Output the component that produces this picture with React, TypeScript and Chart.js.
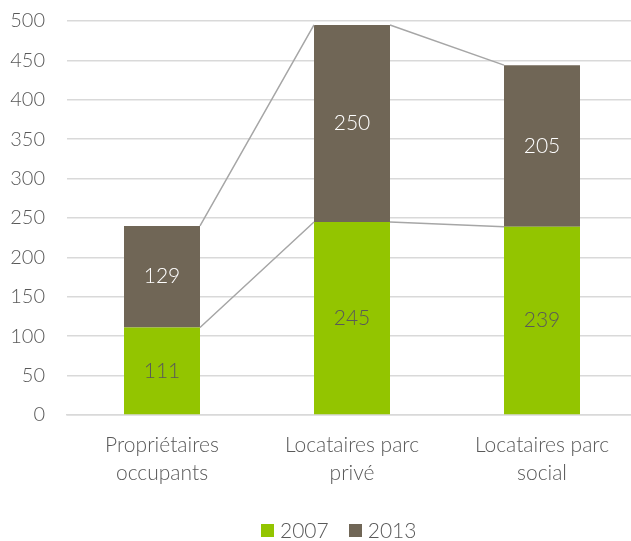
import React, { useEffect, useRef } from "react";
import { Chart, registerables } from "chart.js";

Chart.register(...registerables);

const categories: string[][] = [
  ["Propriétaires", "occupants"],
  ["Locataires parc", "privé"],
  ["Locataires parc", "social"],
];
const values2007 = [111, 245, 239];
const values2013 = [129, 250, 205];
const seriesNames = ["2007", "2013"];
const colors = ["#93C500", "#706656"];
const labelColors = ["#595959", "#FFFFFF"];

const FONT = "Lato, 'Open Sans', sans-serif";
const WEIGHT = "300";

const overlay = {
  id: "overlay",
  afterDatasetsDraw(chart: any) {
    const ctx = chart.ctx;
    ctx.save();
    chart.data.datasets.forEach((ds: any, i: number) => {
      const meta = chart.getDatasetMeta(i);
      ctx.strokeStyle = "#A6A6A6";
      ctx.lineWidth = 1.5;
      ctx.beginPath();
      for (let j = 0; j < meta.data.length - 1; j++) {
        const a = meta.data[j];
        const b = meta.data[j + 1];
        ctx.moveTo(a.x + a.width / 2, a.y);
        ctx.lineTo(b.x - b.width / 2, b.y);
      }
      ctx.stroke();
    });
    chart.data.datasets.forEach((ds: any, i: number) => {
      const meta = chart.getDatasetMeta(i);
      ctx.fillStyle = labelColors[i];
      ctx.font = `${WEIGHT} 21px ${FONT}`;
      ctx.textAlign = "center";
      ctx.textBaseline = "middle";
      meta.data.forEach((el: any, j: number) => {
        const y = (el.y + el.base) / 2;
        ctx.fillText(String(ds.data[j]), el.x, y);
      });
    });
    ctx.restore();
  },
};

export default function App() {
  const ref = useRef<HTMLCanvasElement>(null);
  useEffect(() => {
    if (!ref.current) return;
    const chart = new Chart(ref.current, {
      type: "bar",
      data: {
        labels: categories,
        datasets: [
          { label: seriesNames[0], data: values2007, backgroundColor: colors[0], barPercentage: 0.4, categoryPercentage: 1 },
          { label: seriesNames[1], data: values2013, backgroundColor: colors[1], barPercentage: 0.4, categoryPercentage: 1 },
        ],
      },
      options: {
        animation: false,
        responsive: true,
        maintainAspectRatio: false,
        layout: { padding: { top: 21, left: 0, right: 8, bottom: 0 } },
        plugins: { legend: { display: false }, tooltip: { enabled: false } },
        scales: {
          x: {
            stacked: true,
            grid: { display: false, drawTicks: false },
            border: { display: true, color: "#D9D9D9", width: 1.5 },
            ticks: { color: "#595959", font: { family: FONT, size: 21, weight: WEIGHT, lineHeight: 1.35 }, padding: 16, maxRotation: 0 },
            afterFit: (scale: any) => {
              scale.height = 126;
              scale.paddingLeft = 0;
              scale.paddingRight = 0;
            },
          },
          y: {
            stacked: true,
            min: 0,
            max: 500,
            ticks: { stepSize: 50, color: "#595959", font: { family: FONT, size: 20, weight: WEIGHT }, padding: 22 },
            grid: { color: "#D9D9D9", lineWidth: 1.5, drawTicks: false },
            border: { display: false },
            afterFit: (scale: any) => {
              scale.width = 67;
              scale.paddingTop = 0;
              scale.paddingBottom = 0;
            },
          },
        },
      },
      plugins: [overlay],
    });
    return () => chart.destroy();
  }, []);

  return (
    <div style={{ position: "fixed", left: 0, top: 0, width: 631, height: 541, overflow: "hidden", background: "#fff" }}>
      <div style={{ position: "absolute", left: 0, top: 0, width: 645, height: 541 }}>
        <canvas ref={ref} />
      </div>
      <div
        style={{
          position: "absolute",
          left: 261,
          top: 518,
          display: "flex",
          alignItems: "center",
          fontFamily: FONT,
          fontWeight: 300,
          fontSize: 21,
          color: "#595959",
          lineHeight: "24px",
        }}
      >
        {seriesNames.map((n, i) => (
          <div key={n} style={{ display: "flex", alignItems: "center", marginRight: i === 0 ? 20 : 0 }}>
            <span style={{ display: "inline-block", width: 13, height: 13, background: colors[i], marginRight: 6 }} />
            <span>{n}</span>
          </div>
        ))}
      </div>
    </div>
  );
}
